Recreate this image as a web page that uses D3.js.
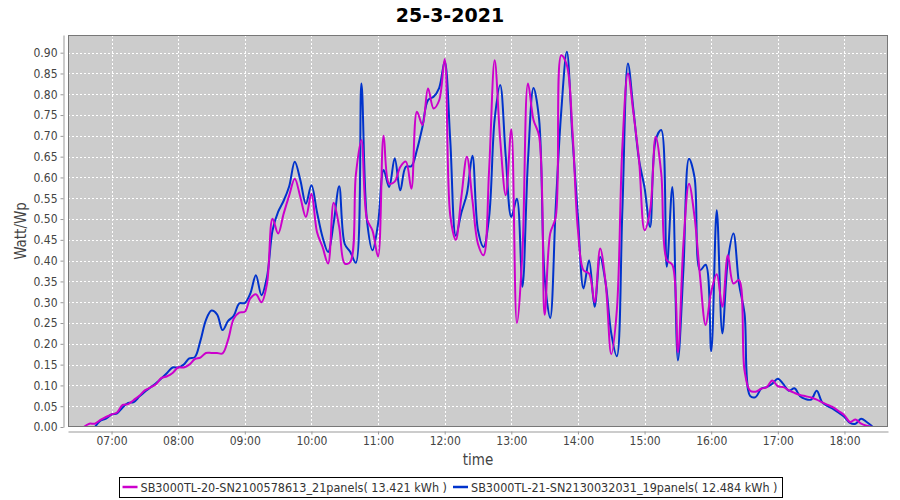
<!DOCTYPE html>
<html>
<head>
<meta charset="utf-8">
<script src="https://cdn.jsdelivr.net/npm/d3@7"></script>
<style>
  html, body { margin: 0; padding: 0; background: #ffffff; }
  svg { display: block; }
</style>
</head>
<body>
<svg id="chart" width="900" height="500"></svg>
<script>
// ---------------- DATA ----------------
const chartTitle = "25-3-2021";
const yAxisTitle = "Watt/Wp";
const xAxisTitle = "time";
const seriesNames = [
  "SB3000TL-20-SN2100578613_21panels( 13.421 kWh )",
  "SB3000TL-21-SN2130032031_19panels( 12.484 kWh )"
];
const seriesColors = ["#cc00cc", "#0033cc"];

// samples every 5 minutes, first sample 06:35, last 18:25
const firstSample = "06:35";
const sampleStepMinutes = 5;

const magentaValues = [
  0.000, 0.008, 0.008, 0.017, 0.024, 0.030, 0.035, 0.053, 0.055, 0.065,
  0.075, 0.088, 0.095, 0.103, 0.118, 0.122, 0.130, 0.143, 0.143, 0.150,
  0.163, 0.167, 0.178, 0.178, 0.178, 0.177, 0.210, 0.260, 0.275, 0.277,
  0.309, 0.319, 0.300, 0.345, 0.501, 0.465, 0.513, 0.557, 0.597, 0.553,
  0.505, 0.561, 0.469, 0.433, 0.393, 0.539, 0.481, 0.393, 0.397, 0.606,
  0.690, 0.500, 0.472, 0.410, 0.700, 0.585, 0.590, 0.625, 0.638, 0.573,
  0.758, 0.726, 0.814, 0.766, 0.785, 0.885, 0.509, 0.450, 0.553, 0.650,
  0.545, 0.440, 0.413, 0.618, 0.882, 0.690, 0.557, 0.716, 0.250, 0.420,
  0.826, 0.738, 0.700, 0.270, 0.465, 0.505, 0.894, 0.870, 0.714, 0.473,
  0.377, 0.369, 0.300, 0.429, 0.345, 0.175, 0.280, 0.674, 0.850, 0.754,
  0.642, 0.473, 0.521, 0.698, 0.610, 0.401, 0.390, 0.180, 0.441, 0.585,
  0.505, 0.361, 0.245, 0.325, 0.367, 0.289, 0.413, 0.345, 0.353, 0.136,
  0.087, 0.085, 0.092, 0.096, 0.112, 0.098, 0.096, 0.088, 0.082, 0.077,
  0.074, 0.071, 0.066, 0.059, 0.053, 0.047, 0.038, 0.028, 0.012, 0.018,
  0.008, 0.003, 0.000
];

const blueValues = [
  null,  null,  0.000, 0.015, 0.020, 0.030, 0.033, 0.047, 0.058, 0.060,
  0.073, 0.085, 0.095, 0.105, 0.117, 0.130, 0.143, 0.143, 0.150, 0.165,
  0.168, 0.207, 0.257, 0.280, 0.271, 0.233, 0.255, 0.267, 0.297, 0.298,
  0.321, 0.365, 0.317, 0.361, 0.473, 0.517, 0.544, 0.579, 0.638, 0.594,
  0.537, 0.581, 0.517, 0.457, 0.421, 0.490, 0.579, 0.440, 0.421, 0.395,
  0.826, 0.497, 0.425, 0.489, 0.618, 0.577, 0.646, 0.569, 0.626, 0.627,
  0.666, 0.722, 0.786, 0.794, 0.815, 0.878, 0.690, 0.460, 0.515, 0.561,
  0.652, 0.473, 0.433, 0.505, 0.740, 0.822, 0.650, 0.505, 0.549, 0.337,
  0.640, 0.815, 0.740, 0.360, 0.262, 0.529, 0.760, 0.902, 0.698, 0.505,
  0.333, 0.401, 0.289, 0.409, 0.345, 0.225, 0.170, 0.521, 0.874, 0.762,
  0.642, 0.575, 0.481, 0.690, 0.714, 0.385, 0.577, 0.160, 0.380, 0.645,
  0.600, 0.377, 0.390, 0.182, 0.521, 0.225, 0.401, 0.465, 0.345, 0.273,
  0.075, 0.072, 0.092, 0.096, 0.104, 0.116, 0.103, 0.087, 0.093, 0.074,
  0.067, 0.066, 0.087, 0.059, 0.050, 0.043, 0.034, 0.024, 0.010, 0.008,
  0.020, 0.012, 0.002
];

const xTickLabels = ["07:00","08:00","09:00","10:00","11:00","12:00",
                     "13:00","14:00","15:00","16:00","17:00","18:00"];
const yTickLabels = ["0.00","0.05","0.10","0.15","0.20","0.25","0.30","0.35","0.40",
                     "0.45","0.50","0.55","0.60","0.65","0.70","0.75","0.80","0.85","0.90"];

// ---------------- HELPERS ----------------
const toMin = s => { const [h, m] = s.split(":").map(Number); return h * 60 + m; };
const startMin = toMin(firstSample);
const times = magentaValues.map((_, i) => startMin + i * sampleStepMinutes);

// ---------------- LAYOUT ----------------
const svg = d3.select("#chart");
const plot = { left: 68, top: 35, right: 888, bottom: 427 };
const fontTick = "'DejaVu Sans Condensed', 'Liberation Sans', Arial, sans-serif";

const tMin = d3.min(times), tMax = d3.max(times);
const pad = (tMax - tMin) * 0.02;
const x = d3.scaleLinear().domain([tMin - pad, tMax + pad]).range([plot.left, plot.right]);
const y = d3.scaleLinear().domain([0, 0.9425]).range([plot.bottom, plot.top]);

const xTickVals = xTickLabels.map(toMin);
const yTickVals = yTickLabels.map(Number);

// plot background
svg.append("rect")
  .attr("x", plot.left).attr("y", plot.top)
  .attr("width", plot.right - plot.left).attr("height", plot.bottom - plot.top)
  .attr("fill", "#cccccc");

// gridlines
const grid = svg.append("g");
grid.selectAll("line.gy").data(yTickVals).join("line")
  .attr("x1", plot.left).attr("x2", plot.right)
  .attr("y1", d => Math.round(y(d)) + 0.5).attr("y2", d => Math.round(y(d)) + 0.5)
  .attr("stroke", "#ffffff").attr("stroke-width", 1).attr("stroke-dasharray", "2,2");
grid.selectAll("line.gx").data(xTickVals).join("line")
  .attr("y1", plot.top).attr("y2", plot.bottom)
  .attr("x1", d => Math.round(x(d)) + 0.5).attr("x2", d => Math.round(x(d)) + 0.5)
  .attr("stroke", "#ffffff").attr("stroke-width", 1).attr("stroke-dasharray", "2,2");

// lines (series 0 drawn last, on top)
svg.append("clipPath").attr("id", "clip").append("rect")
  .attr("x", plot.left).attr("y", plot.top)
  .attr("width", plot.right - plot.left).attr("height", plot.bottom - plot.top);

const lineGen = d3.line()
  .defined(d => d.v != null)
  .x(d => x(d.t)).y(d => y(d.v))
  .curve(d3.curveCatmullRom.alpha(0.5));

const seriesData = [magentaValues, blueValues].map(vals => vals.map((v, i) => ({ t: times[i], v })));
const linesG = svg.append("g").attr("clip-path", "url(#clip)");
[1, 0].forEach(si => {
  linesG.append("path")
    .datum(seriesData[si])
    .attr("fill", "none")
    .attr("stroke", seriesColors[si])
    .attr("stroke-width", 2)
    .attr("stroke-linejoin", "round")
    .attr("d", lineGen);
});

// plot border
svg.append("rect")
  .attr("x", plot.left + 0.5).attr("y", plot.top + 0.5)
  .attr("width", plot.right - plot.left - 1).attr("height", plot.bottom - plot.top - 1)
  .attr("fill", "none").attr("stroke", "#777777").attr("stroke-width", 1);

// axes (offset from plot like JFreeChart)
const yAxis = d3.axisLeft(y).tickValues(yTickVals).tickFormat((d, i) => yTickLabels[i])
  .tickSizeInner(3).tickSizeOuter(0).tickPadding(3);
const yAxisG = svg.append("g").attr("transform", `translate(${plot.left - 4.5},0)`).call(yAxis);

const xAxis = d3.axisBottom(x).tickValues(xTickVals).tickFormat((d, i) => xTickLabels[i])
  .tickSizeInner(3).tickSizeOuter(0).tickPadding(2);
const xAxisG = svg.append("g").attr("transform", `translate(0,${plot.bottom + 4.5})`).call(xAxis);

[yAxisG, xAxisG].forEach(g => {
  g.select(".domain").attr("stroke", "#999999");
  g.selectAll(".tick line").attr("stroke", "#999999");
  g.selectAll(".tick text").attr("fill", "#444444")
    .style("font-family", fontTick).style("font-size", "12px");
});

// titles
svg.append("text")
  .attr("x", 450).attr("y", 22)
  .attr("text-anchor", "middle")
  .style("font-family", "'DejaVu Sans', sans-serif")
  .style("font-weight", "bold").style("font-size", "19px")
  .attr("fill", "#000000")
  .text(chartTitle);

svg.append("text")
  .attr("transform", `translate(26,${(plot.top + plot.bottom) / 2}) rotate(-90)`)
  .attr("text-anchor", "middle")
  .style("font-family", fontTick).style("font-size", "15px")
  .attr("fill", "#444444")
  .text(yAxisTitle);

svg.append("text")
  .attr("x", (plot.left + plot.right) / 2).attr("y", 465)
  .attr("text-anchor", "middle")
  .style("font-family", fontTick).style("font-size", "15px")
  .attr("fill", "#444444")
  .text(xAxisTitle);

// legend
const legend = svg.append("g");
const legendY = 487;
const items = [];
seriesNames.forEach((name, i) => {
  const g = legend.append("g");
  g.append("line").attr("x1", 0).attr("x2", 15).attr("y1", 0).attr("y2", 0)
    .attr("stroke", seriesColors[i]).attr("stroke-width", 2.5);
  const t = g.append("text").attr("x", 18).attr("y", 4.5)
    .style("font-family", fontTick).style("font-size", "12.5px")
    .attr("fill", "#333333").text(name);
  const w = 18 + t.node().getComputedTextLength();
  items.push({ g, w });
});
const gap = 6;
const totalW = d3.sum(items, d => d.w) + gap * (items.length - 1);
let lx = 450 - totalW / 2;
items.forEach(it => {
  it.g.attr("transform", `translate(${lx},${legendY})`);
  lx += it.w + gap;
});
legend.insert("rect", ":first-child")
  .attr("x", Math.round(450 - totalW / 2 - 4) + 0.5).attr("y", 477.5)
  .attr("width", Math.round(totalW + 8)).attr("height", 20)
  .attr("fill", "#ffffff").attr("stroke", "#000000").attr("stroke-width", 1);
</script>
</body>
</html>
